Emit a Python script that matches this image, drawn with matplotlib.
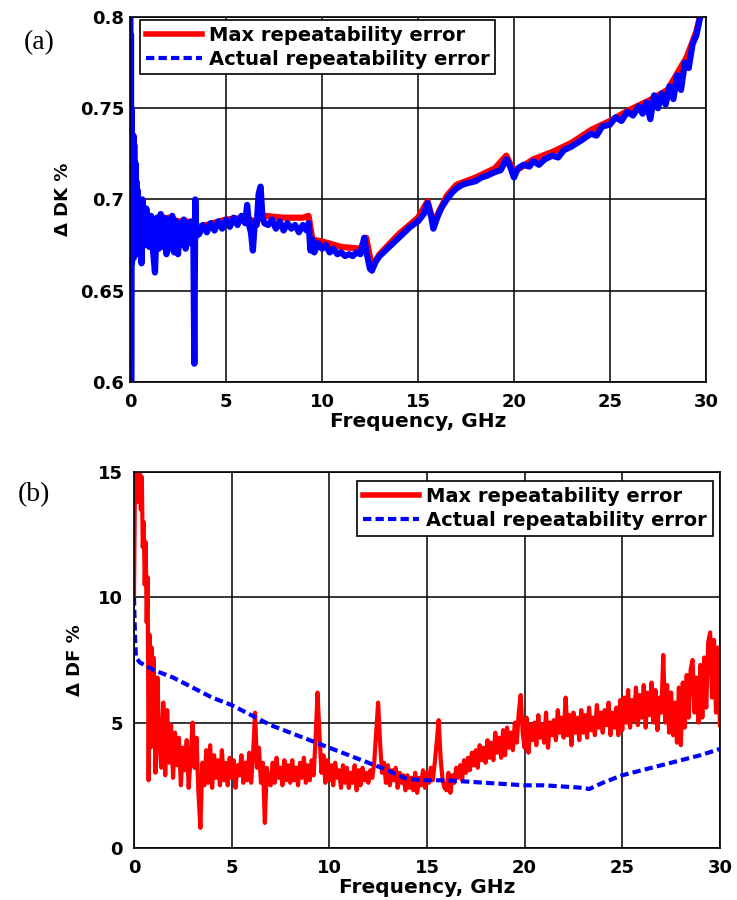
import matplotlib
matplotlib.use('Agg')
import matplotlib.pyplot as plt
from matplotlib.lines import Line2D
import numpy as np

plt.rcParams['font.family'] = ['DejaVu Sans']
plt.rcParams['font.weight'] = 'bold'

# (a) DK repeatability error
dk_act_f = [0.02, 0.04, 0.05, 0.06, 0.08, 0.1, 0.12, 0.15, 0.18, 0.2,
            0.22, 0.25, 0.28, 0.3, 0.33, 0.36, 0.4, 0.43, 0.46, 0.5,
            0.55, 0.6, 0.65, 0.7, 0.75, 0.8, 0.85, 0.9, 0.95, 1.0,
            1.1, 1.2, 1.3, 1.4, 1.5, 1.6, 1.7, 1.8, 1.9, 2.0,
            2.1, 2.2, 2.3, 2.4, 2.5, 2.6, 2.7, 2.8, 2.9, 3.0,
            3.1, 3.2, 3.3, 3.35, 3.4, 3.45, 3.6, 3.8, 4.0, 4.2,
            4.4, 4.6, 4.8, 5.0, 5.2, 5.4, 5.6, 5.8, 6.0, 6.1,
            6.2, 6.3, 6.4, 6.5, 6.6, 6.7, 6.8, 6.9, 7.0, 7.2,
            7.4, 7.6, 7.8, 8.0, 8.2, 8.4, 8.6, 8.8, 9.0, 9.2,
            9.3, 9.4, 9.5, 9.6, 9.8, 10.0, 10.2, 10.4, 10.6, 10.8,
            11.0, 11.2, 11.4, 11.6, 11.8, 12.0, 12.2, 12.3, 12.5, 12.6,
            12.8, 13.0, 13.3, 13.6, 14.0, 14.3, 14.6, 15.0, 15.3, 15.5,
            15.7, 15.8, 16.0, 16.2, 16.5, 16.8, 17.0, 17.3, 17.6, 18.0,
            18.3, 18.6, 19.0, 19.3, 19.6, 19.8, 20.0, 20.2, 20.5, 20.8,
            21.0, 21.3, 21.6, 22.0, 22.3, 22.6, 23.0, 23.3, 23.6, 24.0,
            24.3, 24.6, 25.0, 25.3, 25.6, 25.9, 26.2, 26.5, 26.7, 26.9,
            27.1, 27.3, 27.5, 27.7, 27.9, 28.1, 28.3, 28.5, 28.7, 28.9,
            29.1, 29.3, 29.5, 29.7, 29.8]
dk_act = [0.800, 0.600, 0.790, 0.600, 0.750, 0.665, 0.720, 0.670, 0.735, 0.668,
          0.730, 0.675, 0.720, 0.670, 0.710, 0.675, 0.705, 0.670, 0.700, 0.680,
          0.695, 0.665, 0.700, 0.680, 0.690, 0.675, 0.695, 0.680, 0.690, 0.674,
          0.691, 0.672, 0.660, 0.690, 0.673, 0.692, 0.674, 0.690, 0.670, 0.689,
          0.673, 0.691, 0.671, 0.688, 0.670, 0.687, 0.675, 0.689, 0.673, 0.687,
          0.676, 0.688, 0.680, 0.610, 0.700, 0.680, 0.681, 0.686, 0.682, 0.687,
          0.683, 0.688, 0.684, 0.689, 0.685, 0.690, 0.686, 0.691, 0.687, 0.697,
          0.686, 0.682, 0.672, 0.688, 0.686, 0.703, 0.707, 0.690, 0.687, 0.686,
          0.689, 0.684, 0.688, 0.683, 0.687, 0.684, 0.686, 0.682, 0.686, 0.683,
          0.687, 0.672, 0.678, 0.671, 0.676, 0.673, 0.675, 0.671, 0.673, 0.670,
          0.671, 0.669, 0.670, 0.669, 0.671, 0.670, 0.679, 0.672, 0.662, 0.661,
          0.666, 0.669, 0.672, 0.675, 0.679, 0.682, 0.685, 0.688, 0.692, 0.698,
          0.690, 0.684, 0.690, 0.695, 0.700, 0.704, 0.706, 0.708, 0.709, 0.710,
          0.712, 0.713, 0.715, 0.716, 0.722, 0.718, 0.712, 0.717, 0.719, 0.718,
          0.721, 0.719, 0.722, 0.724, 0.723, 0.727, 0.729, 0.731, 0.733, 0.736,
          0.735, 0.740, 0.741, 0.745, 0.743, 0.748, 0.746, 0.751, 0.747, 0.753,
          0.744, 0.757, 0.750, 0.758, 0.752, 0.762, 0.755, 0.768, 0.760, 0.775,
          0.772, 0.785, 0.790, 0.800, 0.805]

dk_max_f = [0.1, 0.5, 1.0, 1.5, 2.0, 2.5, 3.0, 3.5, 4.0, 5.0,
            6.0, 6.5, 7.0, 8.0, 9.0, 9.3, 9.5, 10.0, 11.0, 12.0,
            12.3, 12.6, 13.0, 14.0, 15.0, 15.5, 15.8, 16.5, 17.0, 18.0,
            19.0, 19.6, 20.0, 21.0, 22.0, 23.0, 24.0, 25.0, 26.0, 27.0,
            27.5, 28.0, 28.5, 29.0, 29.5, 29.8]
dk_max = [0.696, 0.692, 0.689, 0.688, 0.690, 0.688, 0.688, 0.685, 0.686, 0.689,
          0.690, 0.688, 0.691, 0.690, 0.690, 0.691, 0.678, 0.677, 0.674, 0.673,
          0.679, 0.663, 0.670, 0.681, 0.690, 0.699, 0.687, 0.702, 0.708, 0.712,
          0.717, 0.724, 0.715, 0.722, 0.726, 0.731, 0.738, 0.743, 0.749, 0.754,
          0.757, 0.760, 0.769, 0.778, 0.792, 0.805]

# (b) DF repeatability error, first GHz
df_max_f0 = [0.0, 0.05, 0.1, 0.15, 0.2, 0.25, 0.3, 0.35, 0.4, 0.45,
             0.5, 0.55, 0.6, 0.65, 0.7, 0.75, 0.8, 0.85, 0.9, 0.95]
df_max0 = [10.0, 14.5, 15.2, 13.8, 15.3, 14.2, 15.2, 13.5, 14.8, 12.0,
           13.0, 10.5, 12.2, 9.0, 10.8, 2.7, 8.5, 4.0, 8.0, 5.0]
# 1.0 GHz to 30.0 GHz in 0.1 GHz steps
df_start, df_step = 1.0, 0.1
df_max1 = [7.6, 3.0, 6.8, 4.2, 3.2, 5.8, 2.9, 5.5, 3.4, 4.9,   # 1
           2.8, 4.6, 3.3, 4.4, 2.5, 4.0, 3.1, 4.3, 2.4, 3.6,   # 2
           5.0, 3.2, 4.4, 2.2, 0.8, 3.4, 2.5, 3.9, 2.6, 4.1,   # 3
           2.4, 3.7, 2.8, 3.5, 2.5, 3.9, 2.7, 3.4, 2.5, 3.6,   # 4
           2.8, 3.5, 2.4, 3.3, 2.9, 3.7, 2.6, 3.4, 2.7, 3.8,   # 5
           2.6, 3.8, 5.4, 3.2, 4.0, 2.6, 3.4, 1.0, 3.2, 2.6,   # 6
           2.5, 3.4, 2.6, 3.6, 2.8, 3.2, 2.5, 3.5, 2.7, 3.3,   # 7
           2.6, 3.5, 2.7, 3.2, 2.5, 3.4, 2.8, 3.6, 2.6, 3.3,   # 8
           2.7, 3.5, 2.9, 4.4, 6.2, 4.5, 3.0, 3.7, 2.6, 3.5,   # 9
           2.7, 3.3, 2.5, 3.4, 2.8, 3.1, 2.4, 3.3, 2.6, 3.2,   # 10
           2.4, 3.0, 2.6, 3.3, 2.3, 3.1, 2.5, 3.2, 2.7, 3.0,   # 11
           2.6, 3.1, 2.8, 3.4, 4.6, 5.8, 4.2, 3.0, 3.4, 2.6,   # 12
           3.3, 2.5, 3.1, 2.7, 3.2, 2.4, 3.0, 2.6, 2.9, 2.3,   # 13
           2.9, 2.4, 2.8, 2.3, 3.0, 2.2, 2.8, 2.5, 3.1, 2.4,   # 14
           3.0, 2.6, 3.2, 2.7, 3.4, 4.2, 5.1, 3.6, 2.7, 2.4,   # 15
           2.3, 3.0, 2.2, 2.9, 2.6, 3.2, 2.8, 3.3, 2.7, 3.5,   # 16
           3.0, 3.6, 3.1, 3.8, 3.3, 3.9, 3.2, 4.1, 3.5, 4.0,   # 17
           3.4, 4.3, 3.6, 4.2, 3.5, 4.6, 3.8, 4.4, 3.6, 4.7,   # 18
           3.7, 4.8, 4.0, 4.6, 3.9, 5.0, 4.2, 5.4, 6.1, 4.6,   # 19
           4.0, 5.2, 3.8, 4.9, 4.3, 5.0, 4.1, 5.3, 4.4, 4.9,   # 20
           4.2, 5.4, 4.0, 5.0, 4.5, 5.1, 4.3, 5.5, 4.6, 5.2,   # 21
           4.4, 6.0, 4.5, 5.3, 4.1, 5.4, 4.6, 5.2, 4.3, 5.5,   # 22
           4.6, 5.3, 4.4, 5.6, 4.7, 5.2, 4.5, 5.7, 4.8, 5.4,   # 23
           4.6, 5.5, 4.9, 5.8, 4.5, 5.4, 4.8, 5.6, 4.5, 5.9,   # 24
           4.7, 6.0, 5.0, 6.3, 4.8, 5.9, 5.1, 6.4, 4.9, 6.1,   # 25
           5.2, 6.5, 4.8, 6.2, 5.3, 6.6, 5.0, 6.3, 4.7, 6.0,   # 26
           5.4, 7.7, 5.0, 6.5, 4.6, 6.2, 4.5, 5.8, 4.2, 6.4,   # 27
           4.1, 6.6, 4.8, 6.9, 5.2, 7.1, 7.5, 5.4, 6.8, 5.0,   # 28
           7.3, 5.2, 7.6, 5.6, 8.2, 8.6, 6.0, 8.3, 5.4, 8.0,   # 29
           4.9]                                                # 30
df_max_f1 = list(np.round(df_start + df_step * np.arange(len(df_max1)), 2))
df_max_f = df_max_f0 + df_max_f1
df_max = df_max0 + df_max1

df_act_f = [0.0, 0.05, 0.1, 0.3, 1.0, 2.0, 3.0, 4.0, 5.0, 6.0,
            7.0, 8.0, 9.0, 10.0, 11.0, 12.0, 13.0, 13.5, 14.0, 15.0,
            16.0, 17.0, 18.0, 19.0, 20.0, 21.0, 22.0, 23.0, 23.3, 24.0,
            25.0, 26.0, 27.0, 28.0, 29.0, 30.0]
df_act = [10.0, 8.5, 7.6, 7.4, 7.1, 6.8, 6.4, 6.0, 5.7, 5.3,
          4.9, 4.6, 4.3, 4.0, 3.7, 3.4, 3.1, 2.9, 2.75, 2.7,
          2.7, 2.65, 2.6, 2.55, 2.5, 2.5, 2.45, 2.4, 2.35, 2.6,
          2.9, 3.1, 3.3, 3.5, 3.7, 3.95]

legend_labels = ['Max repeatability error', 'Actual repeatability error']
dash = (0, (2, 1))

fig = plt.figure(figsize=(7.37, 9), dpi=100)
ax1 = fig.add_axes([0.1764, 0.5756, 0.7815, 0.4056])
ax2 = fig.add_axes([0.1818, 0.0578, 0.795, 0.4178])

ax1.plot(dk_max_f, dk_max, color='red', lw=4.5)
ax1.plot(dk_act_f, dk_act, color='blue', lw=4.5)
ax1.set_xlim(0, 30)
ax1.set_ylim(0.6, 0.8)
ax1.set_yticks([0.6, 0.65, 0.7, 0.75, 0.8])
ax1.set_yticklabels(['0.6', '0.65', '0.7', '0.75', '0.8'])
ax1.set_ylabel('Δ DK %', fontsize=13, fontweight='bold', labelpad=6)
ax1.tick_params(axis='y', pad=4)

ax2.plot(df_max_f, df_max, color='red', lw=3)
ax2.plot(df_act_f, df_act, color='blue', lw=3, ls=dash)
ax2.set_xlim(0, 30)
ax2.set_ylim(0, 15)
ax2.set_yticks([0, 5, 10, 15])
ax2.set_ylabel('Δ DF %', fontsize=13, fontweight='bold', labelpad=10)
ax2.tick_params(axis='y', pad=8)

for ax in (ax1, ax2):
    ax.set_xticks([0, 5, 10, 15, 20, 25, 30])
    ax.set_xlabel('Frequency, GHz', fontsize=14.5, fontweight='bold', labelpad=1)
    ax.grid(True, color='black', lw=1.1)
    ax.tick_params(labelsize=13, length=0)
    ax.tick_params(axis='x', pad=8)
    for s in ax.spines.values():
        s.set_linewidth(1.2)

handles = [Line2D([], [], color='red', lw=4),
           Line2D([], [], color='blue', lw=3, ls=dash)]
leg_kw = dict(fontsize=14, frameon=True, fancybox=False, handlelength=2.9,
              borderaxespad=0, borderpad=0.3, labelspacing=0.25,
              handletextpad=0.35)
leg1 = ax1.legend(handles, legend_labels, loc='upper left',
                  bbox_to_anchor=(0.017, 0.992), **leg_kw)
leg2 = ax2.legend(handles, legend_labels, loc='upper right',
                  bbox_to_anchor=(0.988, 0.976), **leg_kw)
for leg in (leg1, leg2):
    leg.get_frame().set_edgecolor('black')
    leg.get_frame().set_linewidth(1.2)
    leg.get_frame().set_alpha(1)

fig.text(0.053, 0.953, '(a)', fontsize=20, family='Liberation Serif',
         fontweight='normal', ha='center', va='center')
fig.text(0.046, 0.45, '(b)', fontsize=20, family='Liberation Serif',
         fontweight='normal', ha='center', va='center')

fig.savefig('out.png', dpi=100)
